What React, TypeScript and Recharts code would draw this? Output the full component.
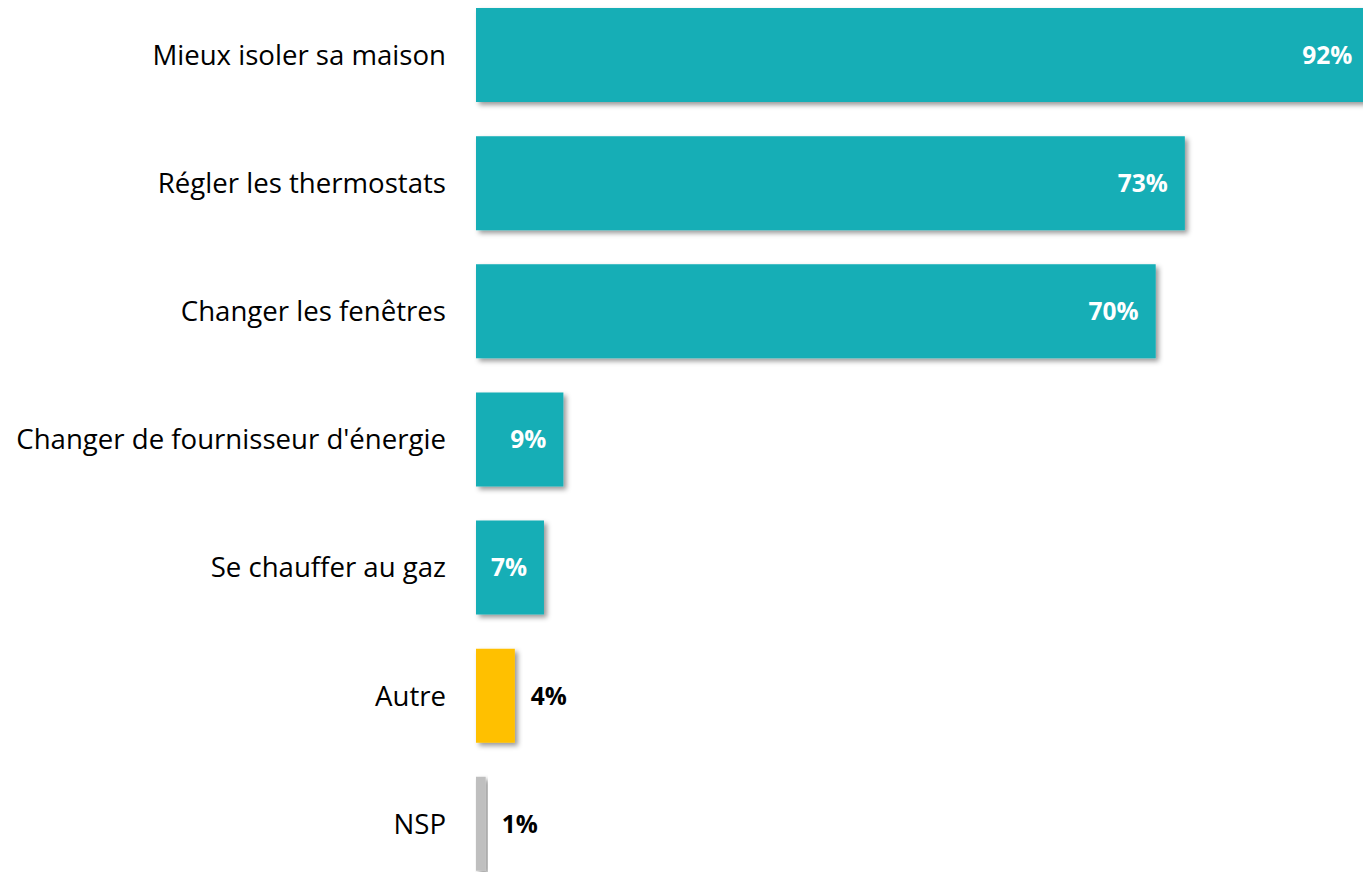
import { BarChart, Bar, XAxis, YAxis, Cell, LabelList } from 'recharts';

const categories = [
  'Mieux isoler sa maison',
  'Régler les thermostats',
  'Changer les fenêtres',
  "Changer de fournisseur d'énergie",
  'Se chauffer au gaz',
  'Autre',
  'NSP',
];

const values = [92, 73, 70, 9, 7, 4, 1];

const BAR_COLORS = ['#13AEB6', '#13AEB6', '#13AEB6', '#13AEB6', '#13AEB6', '#FFC000', '#BFBFBF'];
const INSIDE_LABEL = [true, true, true, true, true, false, false];

const FONT = '"Open Sans", "Noto Sans", sans-serif';

const data = categories.map((name, i) => ({ name, value: values[i] }));

function ValueLabel(props: any) {
  const { x, y, width, height, value, index } = props;
  const inside = INSIDE_LABEL[index];
  const cy = y + height / 2;
  return (
    <text
      x={inside ? x + width - 17 : x + width + 16}
      y={cy}
      dy="0.36em"
      textAnchor={inside ? 'end' : 'start'}
      fill={inside ? '#ffffff' : '#000000'}
      fontFamily={FONT}
      fontWeight={700}
      fontSize={24.5}
    >
      {`${value}%`}
    </text>
  );
}

export default function App() {
  return (
    <div
      style={{
        position: 'fixed',
        top: 0,
        left: 0,
        width: 1363,
        height: 872,
        overflow: 'hidden',
        background: '#ffffff',
      }}
    >
      <div style={{ position: 'absolute', top: -9, left: 0 }}>
        <BarChart
          width={1447}
          height={897}
          data={data}
          layout="vertical"
          margin={{ top: 0, right: 0, bottom: 0, left: 0 }}
          barSize={94}
        >
          <defs>
            <filter id="barShadow" x="-10%" y="-10%" width="130%" height="130%">
              <feDropShadow dx={3} dy={3} stdDeviation={2.5} floodColor="#000000" floodOpacity={0.4} />
            </filter>
          </defs>
          <XAxis type="number" domain={[0, 100]} hide />
          <YAxis
            type="category"
            dataKey="name"
            width={476}
            axisLine={false}
            tickLine={false}
            tickMargin={24}
            interval={0}
            tick={{ fill: '#000000', fontSize: 27.6, fontFamily: FONT }}
          />
          <Bar dataKey="value" isAnimationActive={false} filter="url(#barShadow)">
            {data.map((d, i) => (
              <Cell key={d.name} fill={BAR_COLORS[i]} />
            ))}
            <LabelList dataKey="value" content={ValueLabel} />
          </Bar>
        </BarChart>
      </div>
    </div>
  );
}
